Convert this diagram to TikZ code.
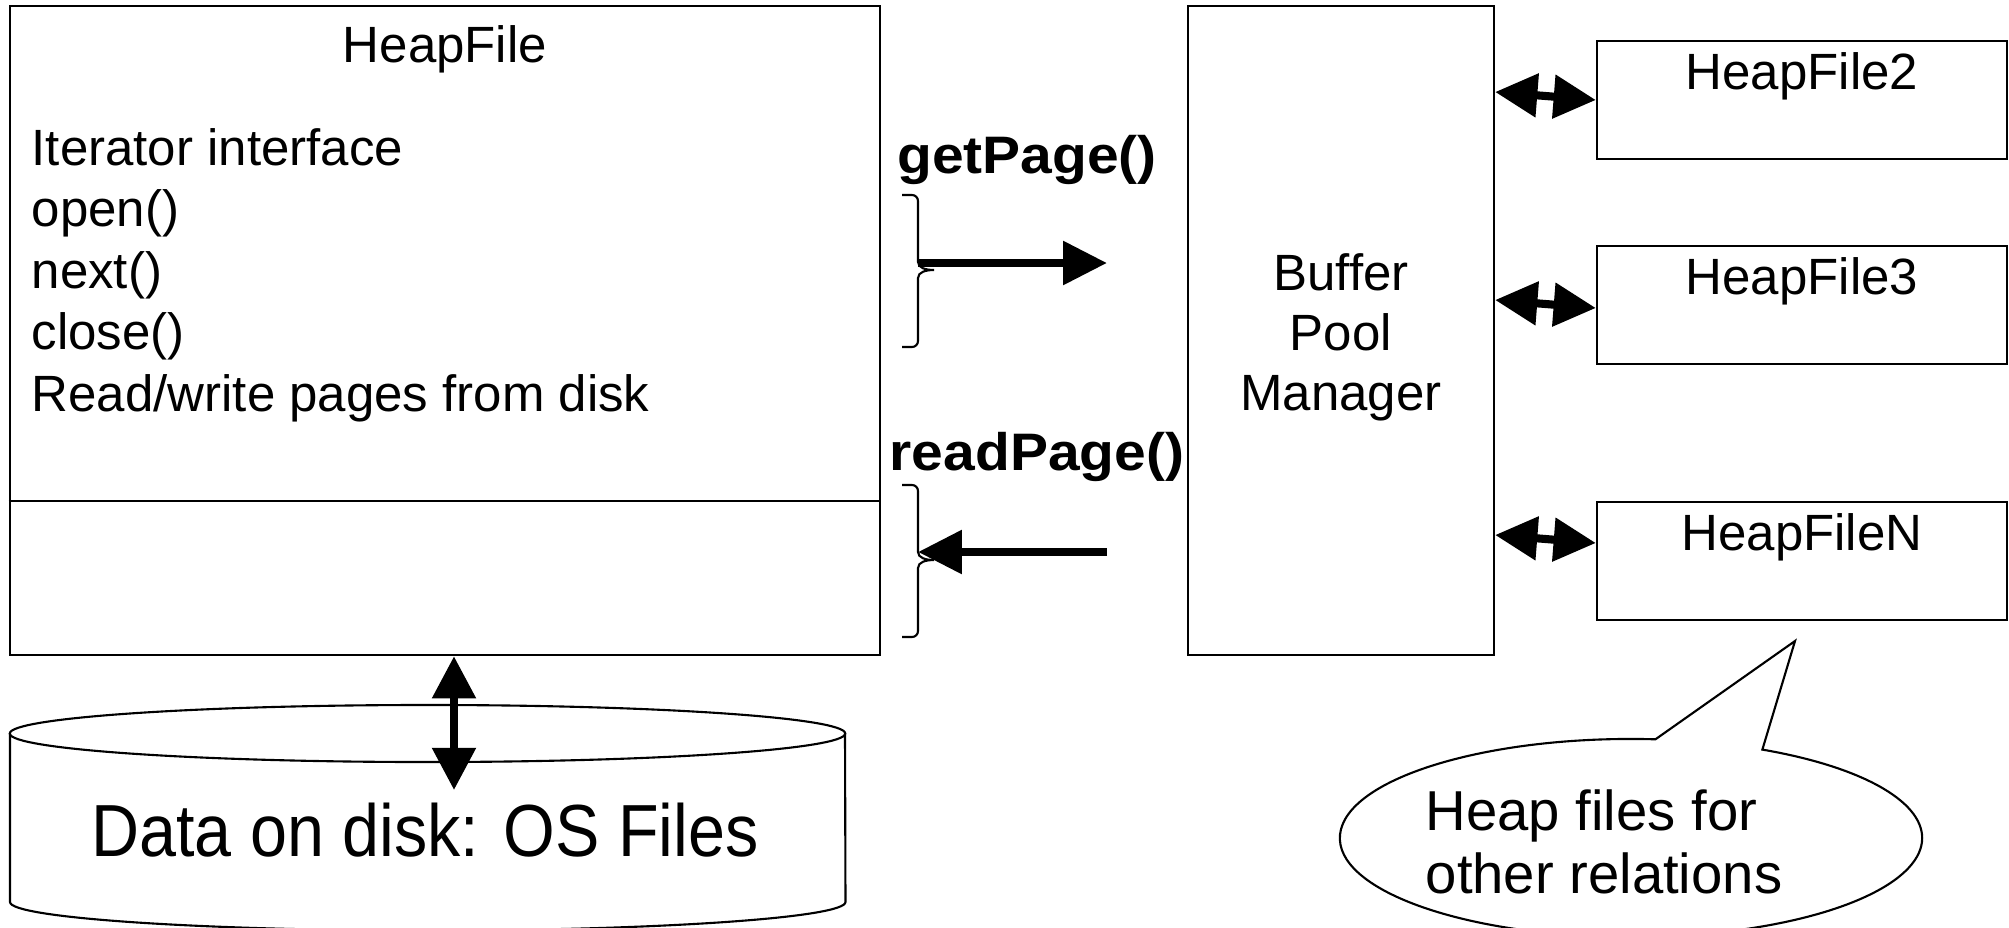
\documentclass[tikz,border=0pt]{standalone}
\usepackage{fontspec}
\usepackage{graphicx}
\setmainfont{Liberation Sans}
\usetikzlibrary{arrows.meta,shapes.callouts}

\tikzset{
  box/.style={draw, line width=0.6pt, inner sep=0pt},
  txt/.style={inner sep=0pt, font=\fontsize{14.5pt}{17pt}\selectfont},
  fat/.style={line width=2.4pt, -{Triangle[length=12.5pt,width=12pt]}},
  twoway/.style={line width=2.3pt, {Triangle[length=12pt,width=12pt]}-{Triangle[length=12pt,width=12pt]}},
  brc/.style={line width=0.6pt},
  lbl/.style={inner sep=0pt, anchor=base},
}
\newcommand{\callname}[1]{\scalebox{1.08}[1]{\fontsize{15pt}{17pt}\selectfont\bfseries #1}}
% square brace with a small tip, from top coordinate #1, tip at #2
\newcommand{\sqbrace}[2]{%
  \draw[brc] (#1) -- ++(10,0) to[out=0,in=90] ++(6,6) |- ($(#2)+(-16,-8)$)
    .. controls ++(0,6) and ++(-8,0) .. (#2)
    .. controls ++(-8,0) and ++(0,-6) .. ($(#2)+(-16,8)$) -- ++(0,63) to[out=-90,in=0] ++(-6,6) -- ++(-10,0);}
\usetikzlibrary{calc}

\begin{document}
\begin{tikzpicture}[x=0.01cm, y=-0.01cm]
  \useasboundingbox (0,0) rectangle (2009,927);

  % HeapFile box
  \node[box, minimum width=8.7cm, minimum height=6.49cm] (hf) at (445,330.5) {};
  \coordinate (div) at (0,501);
  \draw[line width=0.6pt] (hf.west |- div) -- (hf.east |- div);
  \node[txt, anchor=base] (hft) at (445,62) {HeapFile};
  \foreach \t [count=\i] in {{Iterator interface}, {open()}, {next()}, {close()}, {Read/write pages from disk}}
    \node[txt, anchor=base west] (op\i) at (31, {165+61.5*(\i-1)}) {\t};

  % buffer pool manager
  \node[box, minimum width=3.06cm, minimum height=6.49cm] (bpm) at (1341,330.5) {};
  \foreach \t/\y [count=\i] in {Buffer/290, Pool/350, Manager/410}
    \node[txt, anchor=base] (bp\i) at (1341,\y) {\t};

  % other heap files
  \node[box, minimum width=4.1cm, minimum height=1.18cm] (hf2) at (1802,100) {};
  \node[box, minimum width=4.1cm, minimum height=1.18cm] (hf3) at (1802,305) {};
  \node[box, minimum width=4.1cm, minimum height=1.18cm] (hfn) at (1802,561) {};
  \foreach \n/\t in {hf2/HeapFile2, hf3/HeapFile3, hfn/HeapFileN}
    \node[txt, anchor=base] (\n t) at ([yshift=-0.5cm]\n.north) {\t};

  \coordinate (l2) at (0,92);  \coordinate (r2) at (0,100);
  \coordinate (l3) at (0,300); \coordinate (r3) at (0,308);
  \coordinate (ln) at (0,535); \coordinate (rn) at (0,543);
  \draw[twoway] (bpm.east |- l2) -- (hf2.west |- r2);
  \draw[twoway] (bpm.east |- l3) -- (hf3.west |- r3);
  \draw[twoway] (bpm.east |- ln) -- (hfn.west |- rn);

  % getPage()
  \node[lbl] (gp) at (1027,173) {\callname{getPage()}};
  \coordinate (b1a) at (902,195);
  \coordinate (b1t) at (934,270);
  \sqbrace{b1a}{b1t}
  \coordinate (gp0) at (918,263);
  \coordinate (gp1) at (1107,263);
  \draw[fat] (gp0) -- (gp1);

  % readPage()
  \node[lbl] (rp) at (1037,470) {\callname{readPage()}};
  \coordinate (b2a) at (902,485);
  \coordinate (b2t) at (934,560);
  \sqbrace{b2a}{b2t}
  \coordinate (rp0) at (1107,552);
  \coordinate (rp1) at (918,552);
  \draw[fat] (rp0) -- (rp1);

  % disk
  \draw[line width=0.6pt] (10,733.5) -- (10,902)
    arc[start angle=180, end angle=360, x radius=4.175cm, y radius=0.285cm] -- (845,733.5);
  \draw[line width=0.6pt] (427.5,733.5) ellipse [x radius=4.175cm, y radius=0.285cm];
  \node[lbl] (disk) at (425,856) {\fontsize{21pt}{24pt}\selectfont\scalebox{0.9}[1]{Data on disk: OS Files}};
  \coordinate (dk) at (454,790);
  \draw[twoway] (hf.south -| dk) -- (dk);

  % callout
  \node[ellipse callout, draw, line width=0.6pt, minimum width=5.82cm, minimum height=1.98cm,
        callout absolute pointer={(1795,641)}, callout pointer arc=22] (note) at (1631,838) {};
  \node[inner sep=0pt, anchor=base west, font=\fontsize{16pt}{19pt}\selectfont] (note1) at (1425,830) {Heap files for};
  \node[inner sep=0pt, anchor=base west, font=\fontsize{16pt}{19pt}\selectfont] (note2) at (1425,893) {other relations};

\end{tikzpicture}
\end{document}
